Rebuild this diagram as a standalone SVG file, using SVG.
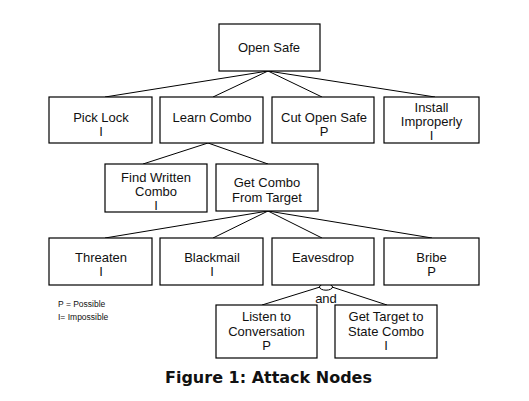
<svg xmlns="http://www.w3.org/2000/svg" width="529" height="401" viewBox="0 0 529 401">
<style>
.box{fill:#fff;stroke:#000;stroke-width:1.2}
.t{font-family:"Liberation Sans",Arial,sans-serif;font-size:13px;fill:#111;text-anchor:middle}
.leg{font-family:"Liberation Sans",Arial,sans-serif;font-size:8.5px;fill:#111}
.cap{font-family:"DejaVu Sans",Verdana,sans-serif;font-size:16px;font-weight:bold;fill:#111}
.ln{stroke:#000;stroke-width:1;fill:none}
</style>
<rect width="529" height="401" fill="#fff"/>
<g id="connectors">
<line class="ln" x1="268" y1="71" x2="105" y2="97"/>
<line class="ln" x1="268" y1="71" x2="213" y2="97"/>
<line class="ln" x1="268" y1="71" x2="322" y2="97"/>
<line class="ln" x1="268" y1="71" x2="435" y2="97"/>
<line class="ln" x1="208" y1="143" x2="143" y2="164"/>
<line class="ln" x1="208" y1="143" x2="268" y2="164"/>
<line class="ln" x1="268" y1="211" x2="105" y2="238"/>
<line class="ln" x1="268" y1="211" x2="213" y2="238"/>
<line class="ln" x1="268" y1="211" x2="322" y2="238"/>
<line class="ln" x1="268" y1="211" x2="432" y2="238"/>
<line class="ln" x1="320" y1="287" x2="262" y2="305"/>
<line class="ln" x1="332" y1="287" x2="387" y2="305"/>
<ellipse class="ln" cx="326" cy="287" rx="6.5" ry="3.2" fill="#fff"/>
<text class="t" x="326" y="303">and</text>
</g>
<g id="open-safe"><rect class="box" x="219" y="24" width="101" height="47"/><text class="t" x="269" y="52">Open Safe</text></g>
<g id="pick-lock"><rect class="box" x="49" y="97" width="103" height="46"/><text class="t" x="101" y="122">Pick Lock</text><text class="t" x="101" y="135.5">I</text></g>
<g id="learn-combo"><rect class="box" x="160" y="97" width="103" height="46"/><text class="t" x="212" y="122">Learn Combo</text></g>
<g id="cut-open-safe"><rect class="box" x="272" y="97" width="102" height="46"/><text class="t" x="324" y="122">Cut Open Safe</text><text class="t" x="324" y="135.5">P</text></g>
<g id="install-improperly"><rect class="box" x="384" y="97" width="95" height="46"/><text class="t" x="431.5" y="112">Install</text><text class="t" x="431.5" y="126">Improperly</text><text class="t" x="431.5" y="140">I</text></g>
<g id="find-written-combo"><rect class="box" x="105" y="164" width="102" height="48"/><text class="t" x="156" y="182">Find Written</text><text class="t" x="156" y="196">Combo</text><text class="t" x="156" y="210">I</text></g>
<g id="get-combo-from-target"><rect class="box" x="216" y="164" width="102" height="47"/><text class="t" x="267" y="187">Get Combo</text><text class="t" x="267" y="202">From Target</text></g>
<g id="threaten"><rect class="box" x="49" y="238" width="103" height="47"/><text class="t" x="101" y="262">Threaten</text><text class="t" x="101" y="275.5">I</text></g>
<g id="blackmail"><rect class="box" x="160" y="238" width="103" height="47"/><text class="t" x="212" y="262">Blackmail</text><text class="t" x="212" y="275.5">I</text></g>
<g id="eavesdrop"><rect class="box" x="272" y="238" width="102" height="47"/><text class="t" x="323" y="262">Eavesdrop</text></g>
<g id="bribe"><rect class="box" x="384" y="238" width="95" height="47"/><text class="t" x="431.5" y="262">Bribe</text><text class="t" x="431.5" y="275.5">P</text></g>
<g id="listen-to-conversation"><rect class="box" x="216" y="305" width="101" height="53"/><text class="t" x="266.5" y="321">Listen to</text><text class="t" x="266.5" y="335.5">Conversation</text><text class="t" x="266.5" y="350">P</text></g>
<g id="get-target-to-state-combo"><rect class="box" x="335" y="305" width="102" height="53"/><text class="t" x="386" y="321">Get Target to</text><text class="t" x="386" y="335.5">State Combo</text><text class="t" x="386" y="350">I</text></g>
<g id="legend"><text class="leg" x="58" y="307">P = Possible</text><text class="leg" x="58" y="320">I= Impossible</text></g>
<text class="cap" x="165" y="383" textLength="207" lengthAdjust="spacingAndGlyphs">Figure 1: Attack Nodes</text>
</svg>
